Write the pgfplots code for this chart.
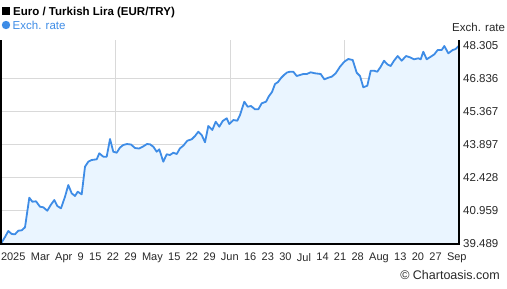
\documentclass[border=0pt]{standalone}
\usepackage{pgfplots}
\pgfplotsset{compat=1.18}
\usepackage{pgfplotstable}
\usepackage{fontspec}
\setmainfont{Liberation Sans}
\definecolor{linecol}{RGB}{62,140,230}
\definecolor{fillcol}{RGB}{234,245,255}
\definecolor{gridcol}{RGB}{217,217,217}
\definecolor{txtcol}{RGB}{40,40,40}
\pgfplotstableread{
x y
1 39.489
5 39.778
8.3 40.046
11.7 39.912
15 39.899
18.3 40.059
21.7 40.077
25 40.210
29.3 41.528
32.3 41.350
36 41.368
40 41.128
43.3 41.101
47.3 40.949
50.7 41.203
54.3 41.426
57.3 41.159
61 41.056
65 41.573
68.3 42.094
71.7 41.724
75 41.604
77.7 41.795
81.7 41.680
85 42.909
88.3 43.131
91.7 43.207
96.7 43.238
99.3 43.505
103.3 43.354
106.7 43.354
110 44.142
113.3 43.576
116.7 43.532
120 43.763
123.3 43.875
127 43.919
131 43.897
135 43.741
139 43.719
143 43.808
147 43.919
150 43.906
153.3 43.799
156.7 43.576
159.3 43.683
163.3 43.131
166.7 43.461
170 43.430
173.3 43.532
176.7 43.474
180 43.728
183.3 43.844
187.3 44.066
191.7 44.129
195 44.275
198.3 44.467
201.7 44.320
205 43.995
208.3 44.721
212.3 44.543
215.7 44.912
219.3 44.690
222.7 44.943
226.7 45.064
229.3 44.810
233.3 44.988
237.3 44.957
240 45.211
244.3 45.803
247.7 45.580
251 45.611
255 45.464
258.3 45.464
261.7 45.731
266 45.803
269 46.056
272 46.235
275 46.591
278 46.680
281 46.858
284 46.992
287 47.103
290 47.138
293.3 47.138
296.7 46.947
300 46.992
303.3 47.036
306.7 47.036
310.7 47.112
315 47.067
320.7 47.036
324.3 46.800
328.3 46.871
331.7 46.916
335.7 47.067
340 47.361
344.3 47.584
348.3 47.704
352.7 47.659
356.7 47.094
360 46.947
363.3 46.444
367.3 46.515
370.7 47.183
374 47.183
377.3 47.138
380.7 47.361
384 47.628
387.3 47.468
390.7 47.392
394 47.628
397.7 47.837
401.7 47.628
406 47.837
410 47.780
414 47.691
418.3 47.735
420.7 47.691
423.3 48.029
426.7 47.691
430.7 47.806
434.3 47.913
437.7 48.105
441.7 48.105
444.3 48.283
448.3 47.958
452.7 48.105
455.7 48.149
459 48.305
}\ratedata
\begin{document}
\begin{tikzpicture}[x=1bp,y=1bp]
\path[use as bounding box] (0,0) rectangle (507,288);
\begin{axis}[
  at={(1bp,44bp)}, anchor=south west,
  scale only axis, width=458bp, height=204bp,
  xmin=1, xmax=459, ymin=39.467, ymax=48.55,
  axis line style={draw=none},
  major tick length=0pt,
  xtick={13.25,40.35,63.75,80.75,95.3,112.9,130.5,152.4,174.3,191.9,209.5,229.85,250.2,267.8,285.4,303.95,322.5,340.1,357.7,379,400.3,417.9,435.5,456.8},
  xticklabels={2025,Mar,Apr,9,15,22,29,May,15,22,29,Jun,16,23,30,Jul,14,21,28,Aug,13,20,27,Sep},
  xticklabel style={font=\fontsize{11bp}{13bp}\selectfont, text=txtcol, anchor=north, inner sep=0pt, yshift=-9bp},
  extra x ticks={115.5,230,344.5},
  extra x tick labels={,,},
  extra x tick style={grid=major, major grid style={gridcol, line width=1bp}},
  ytick={39.489,48.305},
  yticklabels={39.489,48.305},
  extra y ticks={40.959,42.428,43.897,45.367,46.836},
  extra y tick labels={40.959,42.428,43.897,45.367,46.836},
  extra y tick style={grid=major, major grid style={gridcol, line width=1bp}},
  yticklabel pos=right,
  yticklabel style={font=\fontsize{11.5bp}{13bp}\selectfont, text=txtcol, anchor=west, inner sep=0pt, xshift=4bp},
  clip=false,
]
\addplot[fill=fillcol, draw=none] table[x=x,y=y] {\ratedata} \closedcycle;
\addplot[linecol, line width=1.8bp, line join=round] table[x=x,y=y] {\ratedata};
\draw[black, line width=1.5bp] (rel axis cs:0,1) -- (rel axis cs:0,0) -- (rel axis cs:1,0) -- (rel axis cs:1,1);
\end{axis}
\fill[black] (2,272.5) rectangle (10,281);
\node[anchor=base west, inner sep=0pt, font=\bfseries\fontsize{11.5bp}{13bp}\selectfont] at (13,273) {Euro / Turkish Lira (EUR/TRY)};
\fill[linecol] (6,263) circle (4.2);
\node[anchor=base west, inner sep=0pt, text=linecol, font=\fontsize{11.5bp}{13bp}\selectfont] at (12.5,258.7) {Exch. rate};
\node[anchor=base west, inner sep=0pt, text=txtcol, font=\fontsize{11.5bp}{13bp}\selectfont] at (452,256.3) {Exch. rate};
\node[anchor=base east, inner sep=0pt, text=txtcol, font=\fontsize{12.5bp}{14bp}\selectfont] at (500,9) {© Chartoasis.com};
\end{tikzpicture}
\end{document}
